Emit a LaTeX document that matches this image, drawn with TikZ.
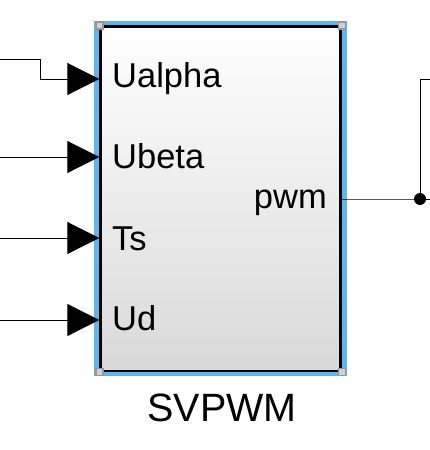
\documentclass[tikz,border=0pt]{standalone}
\usepackage{fontspec}
\setmainfont{Liberation Sans}
\usetikzlibrary{arrows.meta,positioning}
\definecolor{selblue}{RGB}{92,182,242}
\definecolor{hdlgray}{RGB}{150,150,150}
\tikzset{
  blk/.style    ={draw=black, line width=2.4pt, inner sep=0pt,
                  top color=white, bottom color=black!15,
                  minimum width=240pt, minimum height=344.5pt},
  selfr/.style  ={fill=selblue, draw=none},
  hdl/.style    ={draw=hdlgray, fill=black!18, line width=1.4pt,
                  minimum size=7pt, inner sep=0pt},
  sig/.style    ={line width=0.9pt},
  insig/.style  ={line width=0.9pt, -{Triangle[length=32pt,width=32pt]}},
  plbl/.style   ={font=\fontsize{34.5}{40}\selectfont, inner sep=0pt},
  blbl/.style   ={font=\fontsize{39.5}{46}\selectfont, inner sep=0pt},
  dotn/.style   ={circle, fill=black, minimum size=12pt, inner sep=0pt},
}
\begin{document}
\begin{tikzpicture}[x=1pt,y=-1pt]
  \useasboundingbox (0,0) rectangle (430,450);
  % selection frame and block
  \fill[selfr] (94,21) rectangle (347,376);
  \node[blk] (svpwm) at (220.5,198.75) {};
  \foreach \c in {north west,north east,south west,south east}
    \node[hdl] at (svpwm.\c) {};
  \node[blbl, anchor=base] (name) at (222,421) {SVPWM};
  % ports
  \coordinate (ua) at (svpwm.west |- 0,79);
  \coordinate (ub) at (svpwm.west |- 0,157);
  \coordinate (ts) at (svpwm.west |- 0,238);
  \coordinate (ud) at (svpwm.west |- 0,320);
  \coordinate (pw) at (svpwm.east |- 0,199);
  \node[plbl, anchor=base west] (lua) at (112,87) {Ualpha};
  \node[plbl, anchor=base west] (lub) at (112,168) {Ubeta};
  \node[plbl, anchor=base west] (lts) at (112,250) {Ts};
  \node[plbl, anchor=base west] (lud) at (112,330) {Ud};
  \node[plbl, anchor=base east] (lpw) at (327,208) {pwm};
  % input lines
  \coordinate (sa) at (0,59);
  \coordinate (sb) at (0,157);
  \coordinate (sc) at (0,238);
  \coordinate (sd) at (0,320);
  \draw[insig] (sa) -- (40,59) -- (40,79) -- (ua);
  \draw[insig] (sb) -- (ub);
  \draw[insig] (sc) -- (ts);
  \draw[insig] (sd) -- (ud);
  % output branch
  \node[dotn] (br) at (420,199) {};
  \coordinate (oa) at (430,199);
  \coordinate (ob) at (430,79);
  \draw[sig] (pw) -- (br.center) -- (oa);
  \draw[sig] (br.center) |- (ob);
\end{tikzpicture}
\end{document}
